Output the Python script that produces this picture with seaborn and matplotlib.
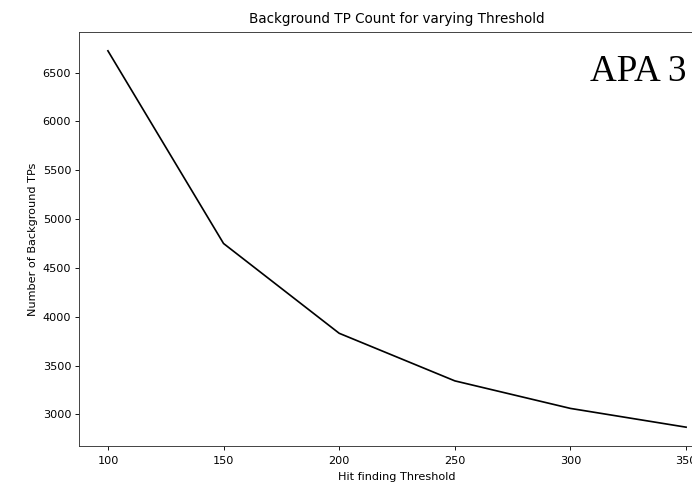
import matplotlib
matplotlib.use("Agg")
import matplotlib.pyplot as plt
import seaborn as sns
import pandas as pd

thresholds = [100, 150, 200, 250, 300, 350]
bg_tp_counts = [6722, 4750, 3831, 3344, 3062, 2870]
title = "Background TP Count for varying Threshold"
xlabel = "Hit finding Threshold"
ylabel = "Number of Background TPs"
annotation = "APA 3"

df = pd.DataFrame({"threshold": thresholds, "count": bg_tp_counts})

DPI = 81
fig = plt.figure(figsize=(692 / DPI, 487 / DPI), dpi=DPI)
W, H = 692, 487
ax = fig.add_axes([79 / W, 1 - 446 / H, (715 - 79) / W, (446 - 32) / H])

sns.lineplot(data=df, x="threshold", y="count", color="black", linewidth=1.5, ax=ax)
ax.set_title(title, fontsize=12, pad=8)
ax.set_xlabel(xlabel, fontsize=10, labelpad=6)
ax.set_ylabel(ylabel, fontsize=10)
ax.set_xticks([100, 150, 200, 250, 300, 350])
ax.set_yticks([3000, 3500, 4000, 4500, 5000, 5500, 6000, 6500])
ax.tick_params(axis="x", pad=5)
ax.margins(x=0.05, y=0.05)
for s in ax.spines.values():
    s.set_color("#333333")

fig.text(686 / W, 1 - 81 / H, annotation, fontsize=33, family="Liberation Serif",
         ha="right", va="baseline")

fig.savefig("out.png", dpi=DPI)
